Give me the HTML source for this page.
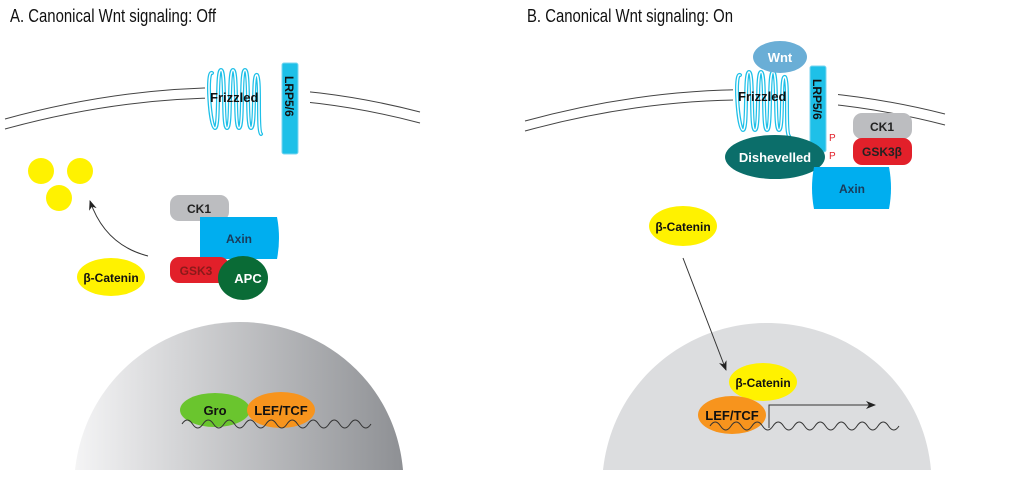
<!DOCTYPE html>
<html><head><meta charset="utf-8"><style>
html,body{margin:0;padding:0;background:#fff;}
svg{display:block;font-family:"Liberation Sans",Arial,sans-serif;}
</style></head><body>
<svg width="1024" height="478" viewBox="0 0 1024 478" xmlns="http://www.w3.org/2000/svg">
<defs>
<linearGradient id="ng" x1="0" x2="1" y1="0" y2="0">
<stop offset="0" stop-color="#f4f4f5"/><stop offset="1" stop-color="#8e9094"/>
</linearGradient>
<marker id="ah" markerWidth="10" markerHeight="8" refX="9" refY="4" orient="auto" markerUnits="userSpaceOnUse">
<path d="M0,0 L10,4 L0,8 L3,4 Z" fill="#222"/>
</marker>
<path id="coil" d="M0,3 C-6,0 -2,58 3,58 C8,58 4,0 9,0 C14,0 10,58 15,58 C20,58 16,0 21,0 C26,0 22,58 27,58 C32,58 28,0 33,0 C38,0 34,58 39,58 C44,58 40,2 45,5 C49,10 45,60 49,64"/>
</defs>

<text x="10" y="22" font-size="18" fill="#111" textLength="206" lengthAdjust="spacingAndGlyphs">A. Canonical Wnt signaling:  Off</text>
<text x="527" y="22" font-size="18" fill="#111" textLength="206" lengthAdjust="spacingAndGlyphs">B. Canonical Wnt signaling:  On</text>

<path d="M75,470 C85,380 160,322 240,322 C320,322 395,380 403,470 Z" fill="url(#ng)"/>
<path d="M603,470 C613,380 688,323 767,323 C848,323 923,380 931,470 Z" fill="#dcdddf"/>

<g fill="none" stroke="#444" stroke-width="1">
<path d="M5,119 Q220,60 420,112"/>
<path d="M5,129 Q220,70 420,123"/>
<path d="M525,121 Q740,62 945,114"/>
<path d="M525,131 Q740,72 945,125"/>
</g>
<rect x="205" y="83" width="105" height="25" fill="#fff"/>
<rect x="733" y="85" width="105" height="25" fill="#fff"/>

<g fill="none" stroke-linecap="round">
<use href="#coil" transform="translate(212,70)" stroke="#1ec0e8" stroke-width="4"/>
<use href="#coil" transform="translate(212,70)" stroke="#fff" stroke-width="1.5"/>
<use href="#coil" transform="translate(740,72)" stroke="#1ec0e8" stroke-width="4"/>
<use href="#coil" transform="translate(740,72)" stroke="#fff" stroke-width="1.5"/>
</g>
<text x="210" y="102" font-size="13" font-weight="bold" fill="#111">Frizzled</text>
<text x="738" y="101" font-size="13" font-weight="bold" fill="#111">Frizzled</text>

<rect x="282" y="63" width="16" height="91" rx="2" fill="#1ec0e8" stroke="#7ad6f0" stroke-width="1"/>
<text transform="translate(285,76) rotate(90)" font-size="12" font-weight="bold" fill="#111">LRP5/6</text>
<ellipse cx="780" cy="57" rx="27" ry="16" fill="#6aaed6"/>
<text x="780" y="62" font-size="13" font-weight="bold" fill="#fff" text-anchor="middle">Wnt</text>
<rect x="810" y="66" width="16" height="86" rx="2" fill="#1ec0e8" stroke="#7ad6f0" stroke-width="1"/>
<text transform="translate(813,79) rotate(90)" font-size="12" font-weight="bold" fill="#111">LRP5/6</text>
<text x="829" y="141" font-size="10" fill="#e2202a">P</text>
<text x="829" y="159" font-size="10" fill="#e2202a">P</text>

<circle cx="41" cy="171" r="13" fill="#fff200"/>
<circle cx="80" cy="171" r="13" fill="#fff200"/>
<circle cx="59" cy="198" r="13" fill="#fff200"/>
<path d="M148,256 Q105,245 90,201" fill="none" stroke="#333" stroke-width="1" marker-end="url(#ah)"/>
<rect x="170" y="195" width="59" height="26" rx="9" fill="#bcbdc0"/>
<text x="199" y="213" font-size="12" font-weight="bold" fill="#222" text-anchor="middle">CK1</text>
<path d="M200,217 H277 Q281,238 277,259 H200 Z" fill="#00aeef"/>
<text x="239" y="243" font-size="12" font-weight="bold" fill="#1a3b5a" text-anchor="middle">Axin</text>
<rect x="170" y="257" width="59" height="26" rx="9" fill="#e2202a"/>
<text x="196" y="275" font-size="12" font-weight="bold" fill="#8a1a1a" text-anchor="middle">GSK3</text>
<ellipse cx="243" cy="278" rx="25" ry="22" fill="#0a6b36"/>
<text x="248" y="283" font-size="13" font-weight="bold" fill="#fff" text-anchor="middle">APC</text>
<ellipse cx="111" cy="277" rx="34" ry="19" fill="#fff200"/>
<text x="111" y="282" font-size="12" font-weight="bold" fill="#111" text-anchor="middle">β-Catenin</text>

<ellipse cx="215" cy="410" rx="35" ry="17" fill="#6ac52e"/>
<text x="215" y="415" font-size="13" font-weight="bold" fill="#111" text-anchor="middle">Gro</text>
<ellipse cx="281" cy="410" rx="34" ry="18" fill="#f7941d"/>
<text x="281" y="415" font-size="13" font-weight="bold" fill="#111" text-anchor="middle">LEF/TCF</text>
<path d="M182,424 q5.25,-8 10.5,0 t10.5,0 t10.5,0 t10.5,0 t10.5,0 t10.5,0 t10.5,0 t10.5,0 t10.5,0 t10.5,0 t10.5,0 t10.5,0 t10.5,0 t10.5,0 t10.5,0 t10.5,0 t10.5,0 t10.5,0" fill="none" stroke="#333" stroke-width="1"/>

<ellipse cx="775" cy="157" rx="50" ry="22" fill="#0b6e6a"/>
<text x="775" y="162" font-size="13" font-weight="bold" fill="#fff" text-anchor="middle">Dishevelled</text>
<rect x="853" y="113" width="59" height="26" rx="9" fill="#bcbdc0"/>
<text x="882" y="131" font-size="12" font-weight="bold" fill="#222" text-anchor="middle">CK1</text>
<rect x="853" y="138" width="59" height="27" rx="9" fill="#e2202a"/>
<text x="882" y="156" font-size="12" font-weight="bold" fill="#222" text-anchor="middle">GSK3β</text>
<path d="M814,167 H889 Q893,188 889,209 H814 Q810,188 814,167 Z" fill="#00aeef"/>
<text x="852" y="193" font-size="12" font-weight="bold" fill="#1a3b5a" text-anchor="middle">Axin</text>
<ellipse cx="683" cy="226" rx="34" ry="20" fill="#fff200"/>
<text x="683" y="231" font-size="12" font-weight="bold" fill="#111" text-anchor="middle">β-Catenin</text>
<line x1="683" y1="258" x2="726" y2="370" stroke="#333" stroke-width="1" marker-end="url(#ah)"/>

<ellipse cx="763" cy="382" rx="34" ry="19" fill="#fff200"/>
<text x="763" y="387" font-size="12" font-weight="bold" fill="#111" text-anchor="middle">β-Catenin</text>
<ellipse cx="732" cy="415" rx="34" ry="19" fill="#f7941d"/>
<text x="732" y="420" font-size="13" font-weight="bold" fill="#111" text-anchor="middle">LEF/TCF</text>
<path d="M710,426 q5.25,-8 10.5,0 t10.5,0 t10.5,0 t10.5,0 t10.5,0 t10.5,0 t10.5,0 t10.5,0 t10.5,0 t10.5,0 t10.5,0 t10.5,0 t10.5,0 t10.5,0 t10.5,0 t10.5,0 t10.5,0 t10.5,0" fill="none" stroke="#333" stroke-width="1"/>
<path d="M769,428 V405 H875" fill="none" stroke="#333" stroke-width="1" marker-end="url(#ah)"/>
</svg>
</body></html>
